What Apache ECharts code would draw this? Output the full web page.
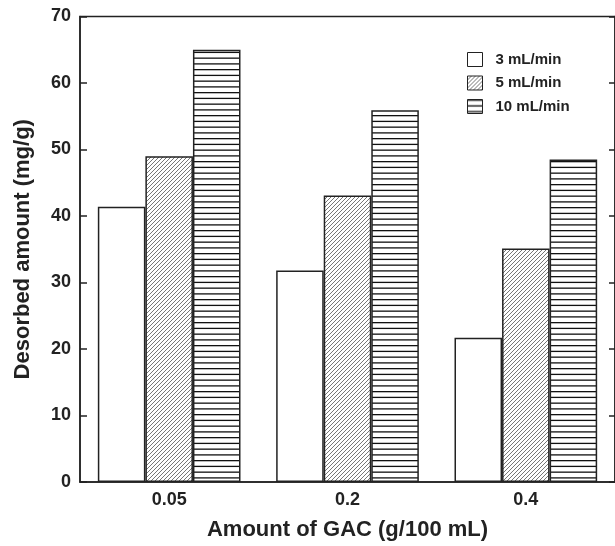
<!DOCTYPE html>
<html>
<head>
<meta charset="utf-8">
<script src="https://cdn.jsdelivr.net/npm/echarts@6/dist/echarts.min.js"></script>
<style>
  html, body { margin: 0; padding: 0; background: #fff; }
  #chart { width: 615px; height: 546px; }
</style>
</head>
<body>
<div id="chart"></div>
<script>
  // data
  var categories = ['0.05', '0.2', '0.4'];
  var flow3 = [41.4, 31.8, 21.7];
  var flow5 = [49.0, 43.1, 35.1];
  var flow10 = [65.0, 55.9, 48.5];
  var seriesNames = ['3 mL/min', '5 mL/min', '10 mL/min'];

  var FONT = '"Liberation Sans", Arial, sans-serif';

  // fill patterns
  function diagPattern() {
    var c = document.createElement('canvas');
    c.width = 4; c.height = 4;
    var ctx = c.getContext('2d');
    ctx.fillStyle = '#fff';
    ctx.fillRect(0, 0, 4, 4);
    ctx.strokeStyle = '#777';
    ctx.lineWidth = 1;
    ctx.beginPath();
    ctx.moveTo(-1, 5); ctx.lineTo(5, -1);
    ctx.moveTo(-1, 1); ctx.lineTo(1, -1);
    ctx.moveTo(3, 5); ctx.lineTo(5, 3);
    ctx.stroke();
    return c;
  }
  function horizPattern() {
    var c = document.createElement('canvas');
    c.width = 4; c.height = 23;
    var ctx = c.getContext('2d');
    ctx.fillStyle = '#fff';
    ctx.fillRect(0, 0, 4, 23);
    ctx.fillStyle = '#111';
    [0, 5.75, 11.5, 17.25].forEach(function (y) {
      ctx.fillRect(0, y, 4, 1.3);
    });
    return c;
  }

  var myChart = echarts.init(document.getElementById('chart'));

  var border = { borderColor: '#222', borderWidth: 1.5 };

  var option = {
    animation: false,
    backgroundColor: '#fff',
    grid: {
      left: 80, top: 16.5, width: 536, height: 468.5,
      show: true, borderColor: '#222', borderWidth: 1.5
    },
    legend: {
      orient: 'vertical',
      left: 462, top: 47,
      itemWidth: 15, itemHeight: 14, itemGap: 8.5,
      icon: 'rect',
      textStyle: { fontFamily: FONT, fontWeight: 'bold', fontSize: 15, color: '#222', padding: [0, 0, 0, 8] },
      itemStyle: { borderColor: '#222', borderWidth: 1 },
      data: seriesNames
    },
    xAxis: {
      type: 'category',
      data: categories,
      name: 'Amount of GAC (g/100 mL)',
      nameLocation: 'middle',
      nameGap: 37,
      nameTextStyle: { fontFamily: FONT, fontWeight: 'bold', fontSize: 22, color: '#222' },
      axisLine: { lineStyle: { color: '#222', width: 1.5 } },
      axisTick: { inside: true, length: 7, lineStyle: { color: '#222', width: 1.5 } },
      axisLabel: { margin: 9, fontFamily: FONT, fontWeight: 'bold', fontSize: 18, color: '#222' }
    },
    yAxis: [
      {
        type: 'value',
        min: 0, max: 70, interval: 10,
        name: 'Desorbed amount (mg/g)',
        nameLocation: 'middle',
        nameGap: 46,
        nameTextStyle: { fontFamily: FONT, fontWeight: 'bold', fontSize: 22, color: '#222' },
        axisLine: { show: true, lineStyle: { color: '#222', width: 1.5 } },
        axisTick: { show: true, inside: true, length: 7, lineStyle: { color: '#222', width: 1.5 } },
        axisLabel: { margin: 9, fontFamily: FONT, fontWeight: 'bold', fontSize: 18, color: '#222' },
        splitLine: { show: false }
      },
      {
        type: 'value',
        position: 'right',
        min: 0, max: 70, interval: 10,
        axisLine: { show: true, lineStyle: { color: '#222', width: 1.5 } },
        axisTick: { show: true, inside: true, length: 6, lineStyle: { color: '#222', width: 1.5 } },
        axisLabel: { show: false },
        splitLine: { show: false }
      }
    ],
    series: [
      {
        name: seriesNames[0], type: 'bar', data: flow3,
        barGap: '0%', barCategoryGap: '20%',
        itemStyle: Object.assign({ color: '#fff' }, border)
      },
      {
        name: seriesNames[1], type: 'bar', data: flow5,
        itemStyle: Object.assign({ color: { image: diagPattern(), repeat: 'repeat' } }, border)
      },
      {
        name: seriesNames[2], type: 'bar', data: flow10,
        itemStyle: Object.assign({ color: { image: horizPattern(), repeat: 'repeat' } }, border)
      }
    ]
  };

  myChart.setOption(option);

  window.addEventListener('resize', function () {
    myChart.resize();
  });
</script>
</body>
</html>
